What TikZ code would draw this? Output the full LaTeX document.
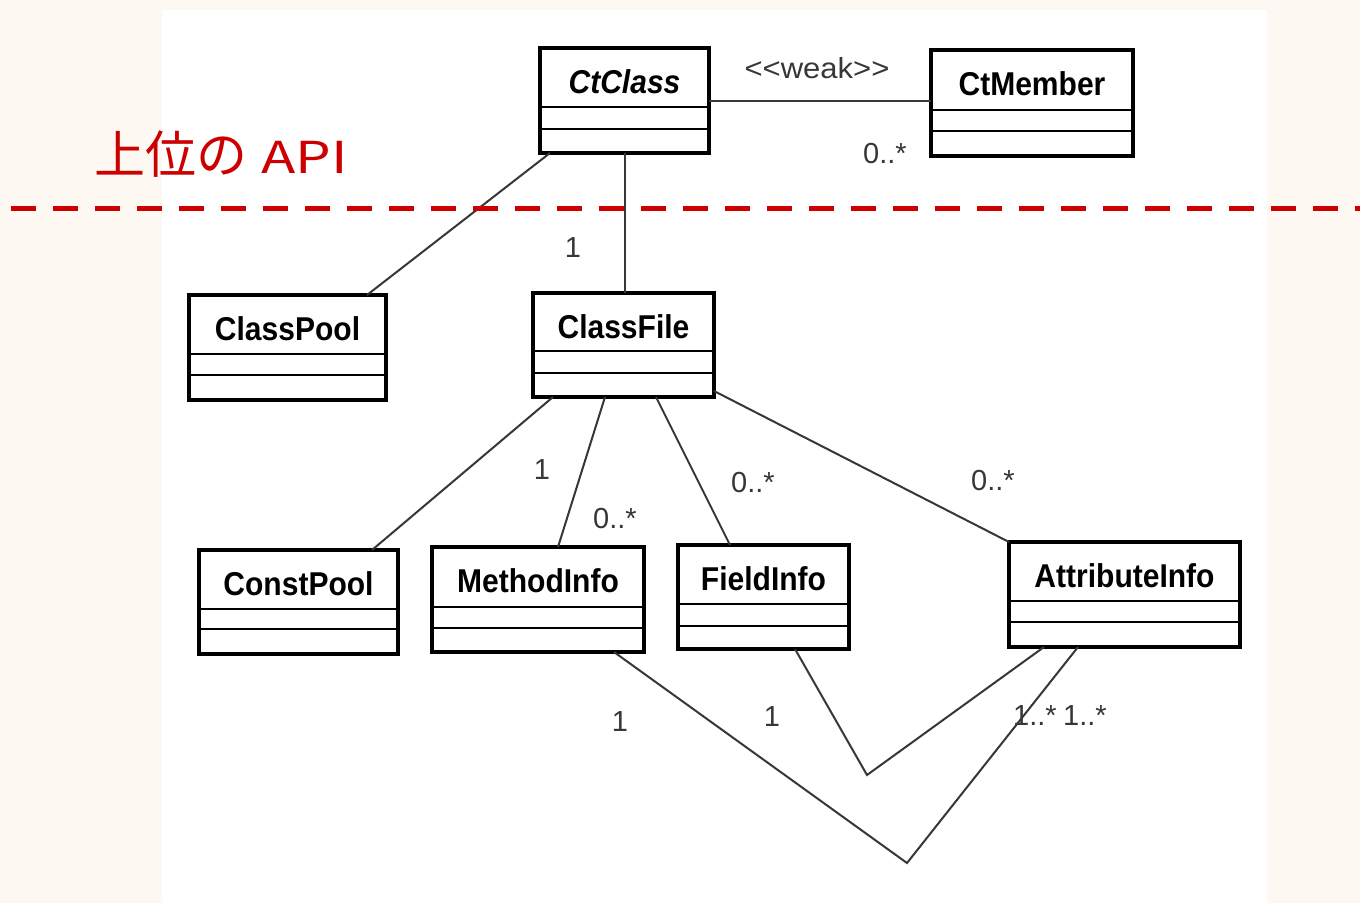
\documentclass[tikz,border=0pt]{standalone}
\usepackage{fontspec}
\setmainfont{Liberation Sans}
\newfontfamily\cjkfont{Noto Sans CJK JP}
\usetikzlibrary{calc}

\definecolor{pagebg}{RGB}{253,248,242}
\definecolor{apired}{RGB}{204,0,0}
\definecolor{linkgray}{RGB}{55,55,55}

\tikzset{
  classbox/.style={rectangle, draw=black, line width=4pt, fill=white,
    inner sep=0pt, outer sep=0pt},
  compartment/.style={draw=black, line width=2pt},
  classname/.style={anchor=base, inner sep=0pt,
    font=\fontsize{33}{33}\selectfont\bfseries},
  link/.style={draw=linkgray, line width=2pt},
  mult/.style={inner sep=0pt, text=linkgray,
    font=\fontsize{29}{29}\selectfont},
  apiline/.style={draw=apired, line width=5pt, dash pattern=on 25pt off 17pt},
  apitext/.style={inner sep=0pt, text=apired, anchor=base west,
    font=\cjkfont\fontsize{51}{51}\selectfont},
}

% UML class box: name, label, x1, y1, x2, y2 (outer edges), two compartment lines
\newcommand\umlclass[8]{%
  \node[classbox, minimum width={#5-#3-4}, minimum height={#6-#4-4}]
    (#1) at ({(#3+#5)/2},{(#4+#6)/2}) {};
  \draw[compartment] ({#3+2},#7) -- ({#5-2},#7) ({#3+2},#8) -- ({#5-2},#8);
  \node[classname] (#1-name) at ({(#3+#5)/2},{#4+47}) {\scalebox{0.91}[1]{#2}};
}

\begin{document}
\begin{tikzpicture}[x=1pt, y=-1pt]
  % page and white panel
  \fill[pagebg] (0,0) rectangle (1360,903);
  \fill[white] (162,10) rectangle (1267,903);
  \useasboundingbox (0,0) rectangle (1360,903);

  % classes
  \umlclass{ctclass}{\textit{CtClass}}{538}{46}{711}{155}{107}{129}
  \umlclass{ctmember}{CtMember}{929}{48}{1135}{158}{110}{131}
  \umlclass{classpool}{ClassPool}{187}{293}{388}{402}{354}{375}
  \umlclass{classfile}{ClassFile}{531}{291}{716}{399}{351}{373}
  \umlclass{constpool}{ConstPool}{197}{548}{400}{656}{609}{629}
  \umlclass{methodinfo}{MethodInfo}{430}{545}{646}{654}{607}{628}
  \umlclass{fieldinfo}{FieldInfo}{676}{543}{851}{651}{604}{626}
  \umlclass{attributeinfo}{AttributeInfo}{1007}{540}{1242}{649}{601}{622}

  % bends of the two lower associations
  \coordinate (bendA) at (907,863);
  \coordinate (bendB) at (867,775);

  % associations
  \draw[link] (ctclass.east) -- (ctclass.east -| ctmember.west);
  \draw[link] ($(ctclass.south west)+(10,0)$) -- ($(classpool.north west)+(178,0)$);
  \draw[link] (ctclass.south) -- (ctclass.south |- classfile.north);
  \draw[link] ($(classfile.south west)+(20,0)$) -- ($(constpool.north west)+(173,0)$);
  \draw[link] ($(classfile.south west)+(72,0)$) -- ($(methodinfo.north west)+(126,0)$);
  \draw[link] ($(classfile.south west)+(123,0)$) -- ($(fieldinfo.north west)+(52,0)$);
  \draw[link] ($(classfile.south east)+(0,-6)$) -- (attributeinfo.north west);
  \draw[link] ($(methodinfo.south west)+(182,0)$) -- (bendA)
    -- ($(attributeinfo.south west)+(69,0)$);
  \draw[link] ($(fieldinfo.south west)+(117,0)$) -- (bendB)
    -- ($(attributeinfo.south west)+(35,0)$);

  % multiplicities and stereotype
  \node[mult] (weak) at (817,68) {\scalebox{1.07}[1]{<{}<weak>{}>}};
  \node[mult] (m-member) at (885,154) {0..*};
  \node[mult] (m-file) at (573,248) {1};
  \node[mult] (m-const) at (542,470) {1};
  \node[mult] (m-method) at (615,519) {0..*};
  \node[mult] (m-field) at (753,483) {0..*};
  \node[mult] (m-attr) at (993,481) {0..*};
  \node[mult] (m-method2) at (620,722) {1};
  \node[mult] (m-field2) at (772,717) {1};
  \node[mult] (m-attr1) at (1035,716) {1..*};
  \node[mult] (m-attr2) at (1085,716) {1..*};

  % API boundary
  \coordinate (apiL) at (11,208);
  \coordinate (apiR) at (1360,208);
  \draw[apiline] (apiL) -- (apiR);
  \node[apitext] (apilabel) at (94,173)
    {上位の\hspace{14pt}\scalebox{1.28}[1]{\fontsize{44}{44}\selectfont API}};
\end{tikzpicture}
\end{document}
